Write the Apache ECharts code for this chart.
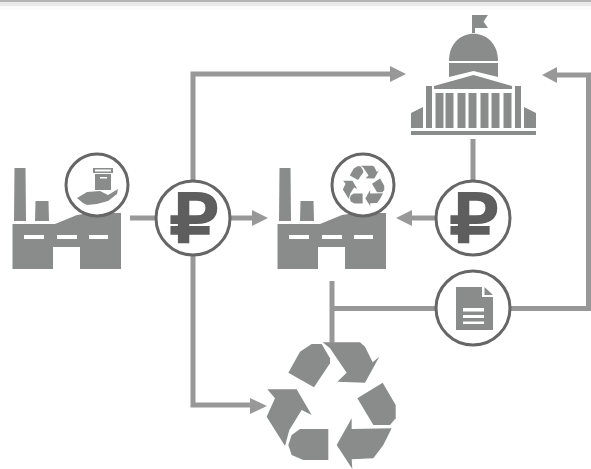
<!DOCTYPE html>
<html>
<head>
<meta charset="utf-8">
<title>Recycling money flow</title>
<style>html,body{margin:0;padding:0;background:#fff;overflow:hidden;}#main{width:591px;height:469px;filter:blur(0.6px);}</style>
<script src="https://cdn.jsdelivr.net/npm/echarts@6/dist/echarts.min.js"></script>
</head>
<body>
<div id="main"></div>
<script type="text/javascript">
// colours
var shapeColor = '#8a8c8b', lineColor = '#989898', ringColor = '#666666', glyphColor = '#5e5e5e';

// top strip of the page
var topBands = [[0, 2, '#b4b4b4'], [2, 6, '#e9e9e9'], [6, 10, '#fbfbfb']];

// connectors, diagram units
var connectors = [
    [[193, 181], [193, 74], [391, 74]],
    [[130, 218], [253, 218]],
    [[193, 255], [193, 405], [251, 405]],
    [[473, 139], [473, 181]],
    [[436, 218], [411, 218]],
    [[591, 75], [556, 75]],
    [[588.5, 75], [588.5, 308.5], [511, 308.5]],
    [[437, 308.5], [332, 308.5]],
    [[332, 281], [332, 343]]
];
// arrow heads: tip x, y, base x
var arrowHeads = [[406, 74, 390], [268, 218, 252], [267, 406, 250], [396, 218, 412], [542, 75, 557]];

// circles: x, y, r
var rings = [[97, 185, 31], [363, 185, 31], [193, 218, 37], [473, 218, 37], [473, 308, 37]];
// ruble signs, glyph centre
var rubles = [[194, 225], [474, 225]];
var factoryOffsets = [0, 265];

var factoryBody = [[12.5, 224], [55, 224], [77, 215], [90, 213], [121, 213], [121, 269], [80, 269], [80, 247], [53, 247], [53, 269], [12.5, 269]];
var factoryStacks = [
    [[14.5, 168], [25.5, 168], [26, 221], [14, 221]],
    [[35.5, 201], [48.5, 201], [49, 221], [35, 221]]
];
var factoryWindows = [[24, 44], [57, 77], [89, 108]];

var boxShapes = [
    [[93, 168], [113, 168], [113, 173], [93, 173]],
    [[95, 174], [111, 174], [111, 190], [95, 190]],
    [[77, 198], [87, 192], [100, 191], [108, 195], [118, 189], [117, 194], [108, 201], [97, 204], [87, 205], [83, 203]]
];
var boxCuts = [[[95, 169.5], [111, 169.5], [111, 171.5], [95, 171.5]], [[100, 177], [107, 177], [107, 178.5], [100, 178.5]]];

var capitolShapes = [
    [[472, 15], [488, 15], [483.5, 21.5], [488, 28], [475, 28], [475, 33], [472, 33]],
    [[449, 63], [498, 63], [498, 77], [473.5, 71], [449, 77]],
    [[473.5, 75], [512, 86], [512, 89], [434, 89], [434, 86]],
    [[426, 86], [432, 86], [432, 128], [426, 128]],
    [[515, 86], [521, 86], [521, 128], [515, 128]],
    [[411, 113], [423, 107], [423, 128], [411, 128]],
    [[524, 107], [536, 113], [536, 128], [524, 128]],
    [[411, 131], [536, 131], [536, 135], [411, 135]]
];
var capitolColumns = [436, 446, 458, 469, 481, 492, 504];

var docBody = [[456, 287], [482, 287], [482, 297], [493, 297], [493, 330], [456, 330]];
var docFold = [[484.5, 287], [493, 295], [484.5, 295]];
var docLines = [[308, 311.5], [315, 318], [321.5, 324]];

// recycle sign, in zoomed-crop units (3x)
var recycleBig = [250, 330, 1 / 3];
var recycleSmall = [337.5, 161.7, 0.107];
var recyclePieces = [
    [[115, 128], [150, 65], [185, 42], [215, 42], [240, 85], [240, 100], [192, 172]],
    [[218, 37], [330, 37], [345, 50], [368, 97], [388, 80], [345, 158], [262, 155], [290, 128], [240, 55]],
    [[322, 205], [398, 158], [437, 225], [437, 265], [420, 285], [370, 285]],
    [[425, 295], [400, 345], [370, 385], [305, 388], [307, 417], [260, 345], [305, 265], [305, 297]],
    [[235, 297], [235, 390], [160, 390], [125, 375], [115, 345], [125, 315], [150, 297]],
    [[52, 178], [140, 178], [185, 255], [155, 240], [118, 300], [105, 348], [50, 260], [75, 205]]
];

function rect(x0, y0, x1, y1) {
    return [[x0, y0], [x1, y0], [x1, y1], [x0, y1]];
}
function shiftX(points, dx) {
    return points.map(function (p) { return [p[0] + dx, p[1]]; });
}
function recycleAt(points, t) {
    return points.map(function (p) { return [t[0] + p[0] * t[2], t[1] + p[1] * t[2]]; });
}

// filled polygons: points and colour
var polygons = [];
function addPolys(list, color) {
    list.forEach(function (pts) { polygons.push({ pts: pts, color: color }); });
}
topBands.forEach(function (b) { addPolys([rect(0, b[0], 591, b[1])], b[2]); });
factoryOffsets.forEach(function (dx) {
    addPolys([shiftX(factoryBody, dx)], shapeColor);
    addPolys(factoryStacks.map(function (s) { return shiftX(s, dx); }), shapeColor);
    addPolys(factoryWindows.map(function (w) { return shiftX(rect(w[0], 235, w[1], 239), dx); }), '#ffffff');
});
addPolys(capitolShapes, shapeColor);
addPolys(capitolColumns.map(function (x) { return rect(x - 0.5, 93, x + 7.5, 128); }), shapeColor);
addPolys(recyclePieces.map(function (p) { return recycleAt(p, recycleBig); }), shapeColor);

var iconPolygons = [];
function addIcons(list, color) {
    list.forEach(function (pts) { iconPolygons.push({ pts: pts, color: color }); });
}
addIcons(boxShapes, shapeColor);
addIcons(boxCuts, '#ffffff');
addIcons(recyclePieces.map(function (p) { return recycleAt(p, recycleSmall); }), shapeColor);
addIcons([docBody], shapeColor);
addIcons([docFold], shapeColor);
addIcons(docLines.map(function (l) { return rect(463, l[0], 484, l[1]); }), '#ffffff');

function polyEl(item, api) {
    return {
        type: 'polygon',
        shape: { points: item.pts.map(function (p) { return api.coord(p); }) },
        style: { fill: item.color }
    };
}

function layer(list, draw, z) {
    return {
        type: 'custom',
        coordinateSystem: 'cartesian2d',
        silent: true,
        clip: false,
        z: z,
        data: list.map(function () { return [0, 0]; }),
        renderItem: function (params, api) { return draw(list[params.dataIndex], api); }
    };
}

var chart = echarts.init(document.getElementById('main'), null, { renderer: 'canvas' });
chart.setOption({
    animation: false,
    backgroundColor: '#ffffff',
    grid: { left: 0, right: 0, top: 0, bottom: 0 },
    xAxis: { type: 'value', min: 0, max: 591, show: false },
    yAxis: { type: 'value', min: 0, max: 469, inverse: true, show: false },
    series: [
        layer(polygons, polyEl, 2),
        // the capitol dome, half a circle
        layer([[473.5, 61, 24.5, 28]], function (d, api) {
            var c = api.coord([d[0], d[1]]);
            return {
                type: 'path',
                shape: {
                    pathData: 'M' + (c[0] - d[2]) + ' ' + c[1] +
                        ' C' + (c[0] - d[2]) + ' ' + (c[1] - d[3] * 1.3) + ' ' + (c[0] + d[2]) + ' ' + (c[1] - d[3] * 1.3) + ' ' + (c[0] + d[2]) + ' ' + c[1] + ' Z'
                },
                style: { fill: shapeColor }
            };
        }, 2),
        layer(connectors, function (pts, api) {
            return {
                type: 'polyline',
                shape: { points: pts.map(function (p) { return api.coord(p); }) },
                style: { stroke: lineColor, lineWidth: 5, fill: null, lineJoin: 'miter' }
            };
        }, 3),
        layer(arrowHeads, function (a, api) {
            return {
                type: 'polygon',
                shape: { points: [api.coord([a[0], a[1]]), api.coord([a[2], a[1] - 8]), api.coord([a[2], a[1] + 8])] },
                style: { fill: lineColor }
            };
        }, 3),
        layer(rings, function (r, api) {
            var c = api.coord([r[0], r[1]]);
            return {
                type: 'circle',
                shape: { cx: c[0], cy: c[1], r: api.size([r[2], 0])[0] },
                style: { fill: '#ffffff', stroke: ringColor, lineWidth: 3 }
            };
        }, 4),
        layer(iconPolygons, polyEl, 5),
        layer(rubles, function (r, api) {
            var c = api.coord(r);
            return {
                type: 'text',
                x: c[0],
                y: c[1],
                scaleX: 1.14,
                style: {
                    text: '₽', x: 0, y: 0,
                    fill: glyphColor,
                    stroke: glyphColor,
                    lineWidth: 3.5,
                    font: '66px "DejaVu Sans"',
                    align: 'center', verticalAlign: 'middle'
                }
            };
        }, 6)
    ]
});
</script>
</body>
</html>
